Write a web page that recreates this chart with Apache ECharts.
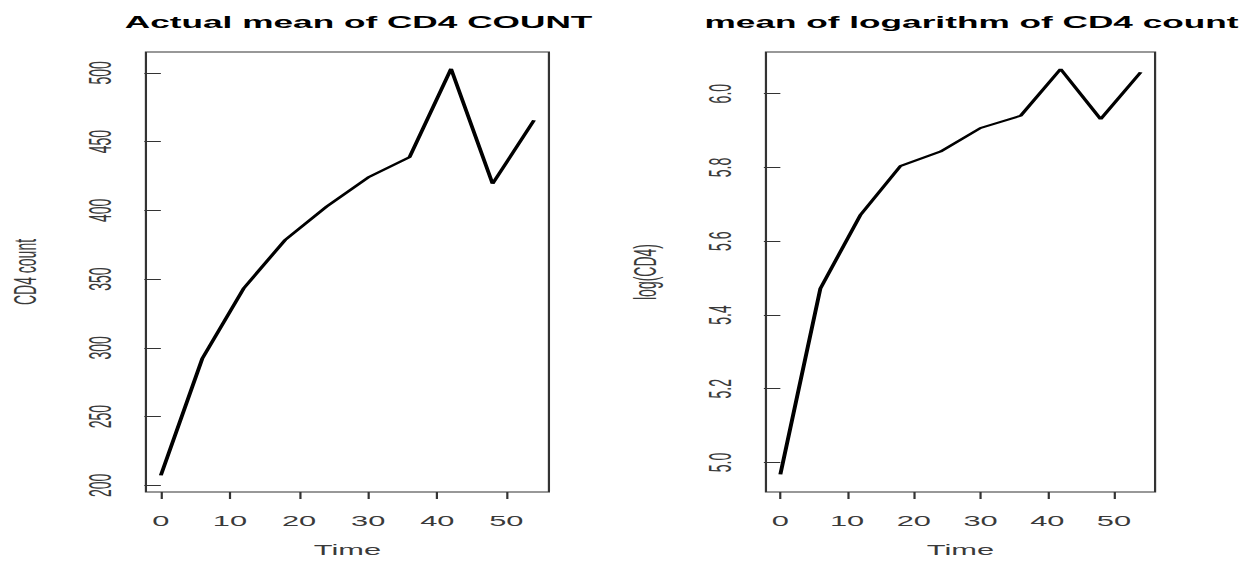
<!DOCTYPE html>
<html>
<head>
<meta charset="utf-8">
<script src="https://cdn.jsdelivr.net/npm/echarts@6/dist/echarts.min.js"></script>
<style>
  html, body { margin: 0; padding: 0; background: #fff; overflow: hidden; }
  /* the R plot was saved narrow and stretched sideways, so draw narrow and stretch */
  #chart { width: 572px; height: 562px; transform-origin: 0 0; transform: scaleX(2.201); }
</style>
</head>
<body>
<div id="chart"></div>
<script>
var time = [0, 6, 12, 18, 24, 30, 36, 42, 48, 54];
var meanCD4 = [207.3, 292.3, 343.4, 378.6, 402.8, 424.0, 438.8, 503.0, 419.4, 465.5];
var meanLogCD4 = [4.968, 5.472, 5.671, 5.804, 5.843, 5.907, 5.940, 6.067, 5.931, 6.058];
var timeTicks = [0, 10, 20, 30, 40, 50];
var countTicks = [200, 250, 300, 350, 400, 450, 500];
var logTicks = [5.0, 5.2, 5.4, 5.6, 5.8, 6.0];

var font = 'Liberation Sans, Arial, sans-serif';
var ink = '#3a3a3a';

function xAxisFor(gridIndex) {
    return {
        type: 'value',
        gridIndex: gridIndex,
        min: -2.16,
        max: 56.16,
        name: 'Time',
        nameLocation: 'middle',
        nameGap: 51,
        nameTextStyle: { fontFamily: font, fontSize: 14, color: ink },
        axisLine: { show: false },
        splitLine: { show: false },
        axisTick: { show: true, length: 7, lineStyle: { color: '#333' }, customValues: timeTicks },
        axisLabel: { fontFamily: font, fontSize: 14, color: ink, margin: 22, customValues: timeTicks }
    };
}

function yAxisFor(gridIndex, name, min, max, ticks, fmt) {
    return {
        type: 'value',
        gridIndex: gridIndex,
        min: min,
        max: max,
        name: name,
        nameLocation: 'middle',
        nameRotate: 90,
        nameGap: 48,
        nameTextStyle: { fontFamily: font, fontSize: 14, color: ink },
        axisLine: { show: false },
        splitLine: { show: false },
        axisTick: { show: true, length: 7.5, lineStyle: { color: '#333' }, customValues: ticks },
        axisLabel: {
            fontFamily: font, fontSize: 14, color: ink, rotate: 90, margin: 14,
            customValues: ticks, formatter: fmt
        }
    };
}

var chart = echarts.init(document.getElementById('chart'), null, { renderer: 'svg' });

var option = {
    animation: false,
    title: [
        {
            text: 'Actual mean of CD4 COUNT',
            left: 157.9, top: 9, textAlign: 'center',
            textStyle: { fontFamily: font, fontSize: 16, fontWeight: 'bold', color: '#000' }
        },
        {
            text: 'mean of logarithm of CD4 count',
            left: 436.4, top: 9, textAlign: 'center',
            textStyle: { fontFamily: font, fontSize: 16, fontWeight: 'bold', color: '#000' }
        }
    ],
    grid: [
        { left: 66.3, top: 52, width: 183.1, height: 440, show: true, borderColor: '#333', borderWidth: 1, backgroundColor: 'transparent' },
        { left: 348.0, top: 52, width: 176.8, height: 440, show: true, borderColor: '#333', borderWidth: 1, backgroundColor: 'transparent' }
    ],
    xAxis: [xAxisFor(0), xAxisFor(1)],
    yAxis: [
        yAxisFor(0, 'CD4 count', 195.2, 515.2, countTicks, function (v) { return String(v); }),
        yAxisFor(1, 'log(CD4)', 4.92, 6.113, logTicks, function (v) { return v.toFixed(1); })
    ],
    series: [
        {
            type: 'line', xAxisIndex: 0, yAxisIndex: 0,
            data: time.map(function (t, i) { return [t, meanCD4[i]]; }),
            showSymbol: false, lineStyle: { color: '#000', width: 1.8 }
        },
        {
            type: 'line', xAxisIndex: 1, yAxisIndex: 1,
            data: time.map(function (t, i) { return [t, meanLogCD4[i]]; }),
            showSymbol: false, lineStyle: { color: '#000', width: 1.8 }
        }
    ]
};

chart.setOption(option);
</script>
</body>
</html>
